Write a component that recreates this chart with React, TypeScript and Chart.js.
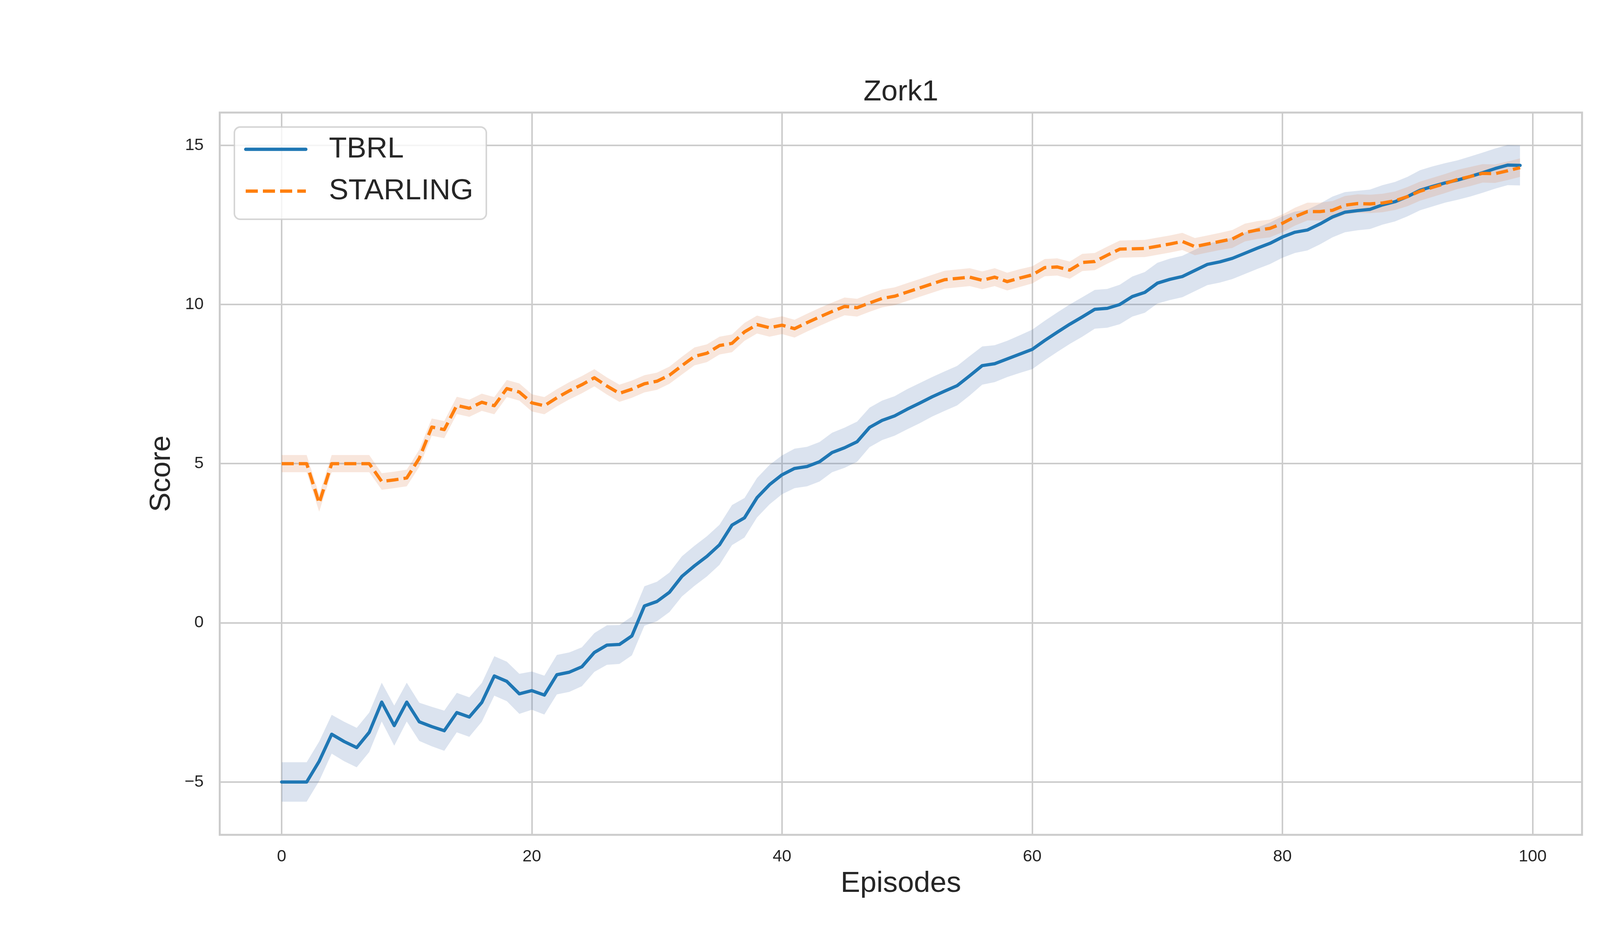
import { useEffect, useRef } from "react"
import { Chart, registerables } from "chart.js"

Chart.register(...registerables)

// episode index on the x axis
const episodes = Array.from({ length: 100 }, (_, i) => i)

const tbrlMean = [
  -5.0, -5.0, -5.0, -4.35, -3.5, -3.73, -3.92, -3.44, -2.49, -3.23,
  -2.49, -3.11, -3.26, -3.39, -2.82, -2.96, -2.5, -1.67, -1.84, -2.23,
  -2.13, -2.27, -1.63, -1.55, -1.38, -0.93, -0.7, -0.68, -0.41, 0.53,
  0.67, 0.96, 1.46, 1.79, 2.09, 2.45, 3.07, 3.3, 3.93, 4.34,
  4.65, 4.85, 4.91, 5.06, 5.35, 5.5, 5.69, 6.14, 6.36, 6.5,
  6.71, 6.9, 7.1, 7.28, 7.45, 7.76, 8.08, 8.14, 8.29, 8.44,
  8.59, 8.87, 9.13, 9.38, 9.61, 9.85, 9.88, 10.0, 10.25, 10.38,
  10.67, 10.79, 10.88, 11.07, 11.26, 11.34, 11.45, 11.61, 11.77, 11.92,
  12.12, 12.27, 12.34, 12.53, 12.75, 12.9, 12.95, 12.99, 13.13, 13.23,
  13.39, 13.59, 13.71, 13.82, 13.91, 14.02, 14.14, 14.27, 14.38, 14.37,
]

const tbrlCi = [
  0.62, 0.62, 0.62, 0.62, 0.61, 0.62, 0.62, 0.62, 0.61, 0.63,
  0.61, 0.6, 0.62, 0.63, 0.62, 0.62, 0.61, 0.62, 0.62, 0.63,
  0.6, 0.61, 0.62, 0.62, 0.61, 0.61, 0.62, 0.61, 0.61, 0.62,
  0.62, 0.62, 0.63, 0.63, 0.63, 0.63, 0.63, 0.62, 0.62, 0.62,
  0.61, 0.62, 0.62, 0.62, 0.62, 0.63, 0.63, 0.62, 0.62, 0.62,
  0.63, 0.63, 0.62, 0.62, 0.62, 0.62, 0.6, 0.58, 0.57, 0.59,
  0.62, 0.62, 0.62, 0.62, 0.62, 0.61, 0.61, 0.62, 0.63, 0.64,
  0.64, 0.65, 0.65, 0.65, 0.65, 0.65, 0.65, 0.65, 0.65, 0.65,
  0.65, 0.65, 0.64, 0.64, 0.64, 0.63, 0.62, 0.62, 0.62, 0.62,
  0.62, 0.63, 0.63, 0.62, 0.62, 0.63, 0.63, 0.63, 0.63, 0.63,
]

const starlingMean = [
  5.0, 5.0, 5.0, 3.76, 5.0, 5.0, 5.0, 5.0, 4.44, 4.49,
  4.55, 5.17, 6.15, 6.07, 6.83, 6.74, 6.93, 6.82, 7.36, 7.25,
  6.91, 6.82, 7.07, 7.29, 7.48, 7.7, 7.44, 7.21, 7.34, 7.51,
  7.59, 7.78, 8.08, 8.37, 8.47, 8.71, 8.78, 9.14, 9.37, 9.27,
  9.35, 9.24, 9.43, 9.61, 9.78, 9.94, 9.9, 10.05, 10.19, 10.26,
  10.39, 10.52, 10.65, 10.78, 10.82, 10.86, 10.76, 10.86, 10.72, 10.83,
  10.93, 11.16, 11.18, 11.08, 11.32, 11.35, 11.55, 11.74, 11.75, 11.76,
  11.83, 11.9, 11.98, 11.82, 11.9, 11.98, 12.06, 12.26, 12.34, 12.39,
  12.55, 12.76, 12.92, 12.92, 12.96, 13.12, 13.17, 13.16, 13.19, 13.26,
  13.39, 13.56, 13.68, 13.8, 13.93, 14.02, 14.12, 14.11, 14.2, 14.3,
]

const starlingCi = [
  0.27, 0.27, 0.27, 0.27, 0.27, 0.27, 0.27, 0.27, 0.26, 0.26,
  0.26, 0.27, 0.27, 0.27, 0.27, 0.27, 0.27, 0.27, 0.27, 0.27,
  0.27, 0.27, 0.27, 0.27, 0.27, 0.27, 0.27, 0.27, 0.27, 0.27,
  0.27, 0.27, 0.28, 0.28, 0.28, 0.28, 0.28, 0.28, 0.28, 0.28,
  0.28, 0.28, 0.28, 0.28, 0.28, 0.28, 0.28, 0.28, 0.28, 0.28,
  0.28, 0.28, 0.28, 0.28, 0.28, 0.28, 0.28, 0.28, 0.28, 0.28,
  0.27, 0.27, 0.27, 0.27, 0.27, 0.27, 0.27, 0.27, 0.27, 0.27,
  0.27, 0.27, 0.27, 0.27, 0.27, 0.27, 0.28, 0.28, 0.28, 0.28,
  0.28, 0.28, 0.28, 0.28, 0.29, 0.29, 0.29, 0.29, 0.29, 0.29,
  0.3, 0.3, 0.3, 0.3, 0.3, 0.3, 0.29, 0.29, 0.29, 0.29,
]

const xTicks = [0, 20, 40, 60, 80, 100]
const yTicks = [-5, 0, 5, 10, 15]

const seriesNames = ["TBRL", "STARLING"]
const lineColors = ["#1f77b4", "#ff7f0e"]
const bandColors = ["rgba(76, 114, 176, 0.2)", "rgba(221, 132, 82, 0.2)"]
const LINE_WIDTH = 8.3
const dashPattern = [31, 13]

const FONT = '"Liberation Sans", Arial, sans-serif'
const TEXT = "#262626"
const GRID = "#cccccc"

const toPoints = (ys: number[]) => episodes.map((x, i) => ({ x, y: ys[i] }))
const offsetBy = (ys: number[], ci: number[], sign: number) =>
  ys.map((v, i) => v + sign * ci[i])

const fmtTick = (v: number) => (v < 0 ? "\u2212" + Math.abs(v) : String(v))

// axes spines on all four sides, drawn over the data like matplotlib does
const framePlugin = {
  id: "frame",
  afterDatasetsDraw(chart: Chart) {
    const { ctx, chartArea: a } = chart
    ctx.save()
    ctx.strokeStyle = GRID
    ctx.lineWidth = 5
    ctx.strokeRect(a.left, a.top, a.right - a.left, a.bottom - a.top)
    ctx.restore()
  },
}

// legend box in the upper left corner of the plot
const legendPlugin = {
  id: "boxLegend",
  afterDraw(chart: Chart) {
    const { ctx, chartArea: a } = chart
    const left = a.left + 37.5
    const top = a.top + 37
    const width = 645
    const height = 236
    ctx.save()
    ctx.beginPath()
    ctx.roundRect(left, top, width, height, 15)
    ctx.fillStyle = "rgba(255, 255, 255, 0.8)"
    ctx.fill()
    ctx.strokeStyle = "rgba(204, 204, 204, 0.8)"
    ctx.lineWidth = 4
    ctx.stroke()

    const rows = [top + 57, top + 164]
    seriesNames.forEach((name, i) => {
      ctx.beginPath()
      ctx.strokeStyle = lineColors[i]
      ctx.lineWidth = LINE_WIDTH
      ctx.lineCap = i === 0 ? "round" : "butt"
      ctx.setLineDash(i === 0 ? [] : dashPattern)
      ctx.moveTo(left + 29, rows[i])
      ctx.lineTo(left + 183, rows[i])
      ctx.stroke()
      ctx.setLineDash([])
      ctx.fillStyle = TEXT
      ctx.font = `75px ${FONT}`
      ctx.textAlign = "left"
      ctx.textBaseline = "middle"
      ctx.fillText(name, left + 242, rows[i])
    })
    ctx.restore()
  },
}

function ZorkChart() {
  const chartRef = useRef<HTMLCanvasElement>(null)
  const chartInstance = useRef<Chart | null>(null)

  useEffect(() => {
    if (!chartRef.current) return

    if (chartInstance.current) {
      chartInstance.current.destroy()
    }

    const ctx = chartRef.current.getContext("2d")
    if (!ctx) return

    const lineBase = { pointRadius: 0, tension: 0, fill: false }
    const bandBase = { pointRadius: 0, borderWidth: 0, tension: 0 }

    chartInstance.current = new Chart(ctx, {
      type: "line",
      data: {
        datasets: [
          {
            ...lineBase,
            label: "STARLING",
            data: toPoints(starlingMean),
            borderColor: lineColors[1],
            borderWidth: LINE_WIDTH,
            borderDash: dashPattern,
            borderCapStyle: "butt",
            borderJoinStyle: "round",
            order: 0,
          },
          {
            ...lineBase,
            label: "TBRL",
            data: toPoints(tbrlMean),
            borderColor: lineColors[0],
            borderWidth: LINE_WIDTH,
            borderCapStyle: "round",
            borderJoinStyle: "round",
            order: 1,
          },
          {
            ...bandBase,
            label: "STARLING upper",
            data: toPoints(offsetBy(starlingMean, starlingCi, 1)),
            backgroundColor: bandColors[1],
            fill: "+1",
            order: 2,
          },
          {
            ...bandBase,
            label: "STARLING lower",
            data: toPoints(offsetBy(starlingMean, starlingCi, -1)),
            fill: false,
            order: 2,
          },
          {
            ...bandBase,
            label: "TBRL upper",
            data: toPoints(offsetBy(tbrlMean, tbrlCi, 1)),
            backgroundColor: bandColors[0],
            fill: "+1",
            order: 3,
          },
          {
            ...bandBase,
            label: "TBRL lower",
            data: toPoints(offsetBy(tbrlMean, tbrlCi, -1)),
            fill: false,
            order: 3,
          },
        ],
      },
      options: {
        animation: false,
        responsive: false,
        devicePixelRatio: 1,
        layout: { padding: { left: 0, right: 450, top: 0, bottom: 0 } },
        plugins: {
          legend: { display: false },
          tooltip: { enabled: false },
          title: {
            display: true,
            text: "Zork1",
            fullSize: false,
            color: TEXT,
            font: { family: FONT, size: 75, weight: "normal", lineHeight: 1.2 },
            padding: { top: 191, bottom: 7 },
          },
        },
        scales: {
          x: {
            type: "linear",
            min: -4.95,
            max: 103.95,
            afterBuildTicks: (scale) => {
              scale.ticks = xTicks.map((value) => ({ value }))
            },
            afterFit: (scale) => {
              scale.height = 264
            },
            grid: { color: GRID, lineWidth: 4, drawTicks: false },
            border: { display: false },
            ticks: {
              padding: 30,
              color: TEXT,
              autoSkip: false,
              maxRotation: 0,
              font: { family: FONT, size: 43 },
              callback: (v) => fmtTick(Number(v)),
            },
            title: {
              display: true,
              text: "Episodes",
              color: TEXT,
              font: { family: FONT, size: 75, lineHeight: 1.2 },
              padding: { top: 0, bottom: 94 },
            },
          },
          y: {
            type: "linear",
            min: -6.66,
            max: 16.03,
            afterBuildTicks: (scale) => {
              scale.ticks = yTicks.map((value) => ({ value }))
            },
            afterFit: (scale) => {
              scale.width = 562.5
            },
            grid: { color: GRID, lineWidth: 4, drawTicks: false },
            border: { display: false },
            ticks: {
              padding: 41,
              color: TEXT,
              autoSkip: false,
              font: { family: FONT, size: 43 },
              callback: (v) => fmtTick(Number(v)),
            },
            title: {
              display: true,
              text: "Score",
              color: TEXT,
              font: { family: FONT, size: 75, lineHeight: 1.2 },
              padding: { top: 369, bottom: 0 },
            },
          },
        },
      },
      plugins: [framePlugin, legendPlugin],
    })

    return () => {
      if (chartInstance.current) {
        chartInstance.current.destroy()
        chartInstance.current = null
      }
    }
  }, [])

  return <canvas ref={chartRef} width={4500} height={2400} />
}

export default function App() {
  return (
    <div
      style={{
        position: "absolute",
        left: 0,
        top: 0,
        width: 4500,
        height: 2400,
        background: "#ffffff",
      }}
    >
      <ZorkChart />
    </div>
  )
}
